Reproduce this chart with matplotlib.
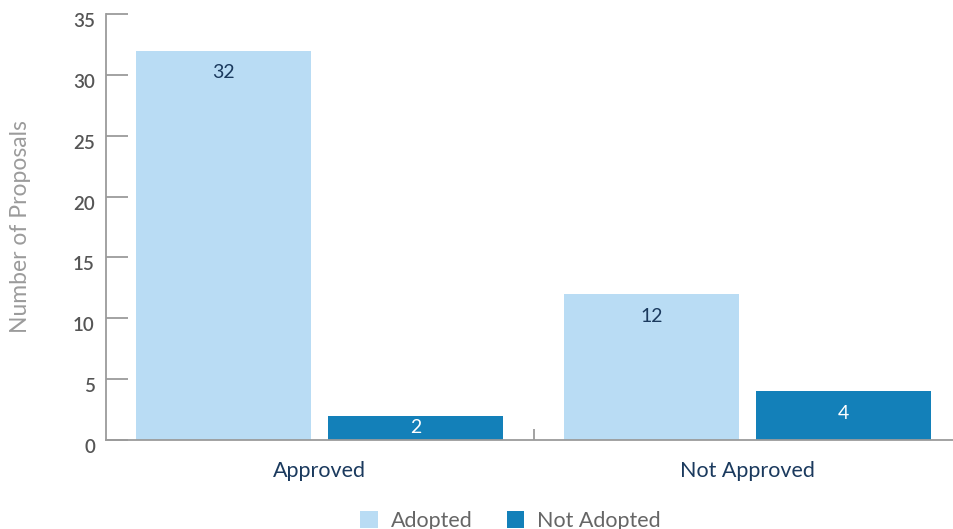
import matplotlib
matplotlib.use("Agg")
import matplotlib.pyplot as plt
import matplotlib.transforms as mtransforms
import numpy as np

categories = ["Approved", "Not Approved"]
adopted = [32, 12]
not_adopted = [2, 4]
series_names = ["Adopted", "Not Adopted"]

LIGHT = "#b9dcf4"
DARK = "#1380b9"
NAVY = "#1b3a5e"
GRAY = "#9b9b9b"

plt.rcParams["font.family"] = ["Lato", "DejaVu Sans"]

fig = plt.figure(figsize=(9.54, 5.29), dpi=100)
ax = fig.add_axes([106 / 954, 89 / 529, 848 / 954, 426 / 529])

x = np.arange(len(categories))
w = 0.409
off = 0.2245
b1 = ax.bar(x - off, adopted, w, color=LIGHT, label=series_names[0])
b2 = ax.bar(x + off, not_adopted, w, color=DARK, label=series_names[1])

for bars, col in [(b1, NAVY), (b2, "white")]:
    for r in bars:
        h = r.get_height()
        if h < 3:
            ax.text(r.get_x() + r.get_width() / 2, h / 2, f"{h:g}", ha="center",
                    va="center", color=col, fontsize=14)
        else:
            ax.annotate(f"{h:g}", (r.get_x() + r.get_width() / 2, h),
                        xytext=(0, -16), textcoords="offset points",
                        ha="center", va="center", color=col, fontsize=14)

ax.set_xlim(-0.5, 1.482)
ax.set_ylim(0, 35)
ax.set_yticks(range(0, 36, 5))
ax.set_xticks(x)
ax.set_xticklabels(categories, color=NAVY, fontsize=15.5)
ax.tick_params(axis="x", length=0, pad=15)
ax.tick_params(axis="y", direction="in", length=16, width=1.3, color=GRAY,
               labelcolor="#555555", labelsize=13.5, pad=8)
ax.set_xticks([0.5], minor=True)
ax.tick_params(axis="x", which="minor", direction="in", length=8, width=1.3, color=GRAY)
shift = mtransforms.ScaledTranslation(0, -0.06, fig.dpi_scale_trans)
for t in ax.get_yticklabels():
    t.set_fontweight("semibold")
    t.set_transform(t.get_transform() + shift)

for s in ["top", "right"]:
    ax.spines[s].set_visible(False)
for s in ["left", "bottom"]:
    ax.spines[s].set_color(GRAY)
    ax.spines[s].set_linewidth(1.3)

ax.set_ylabel("Number of Proposals", color=GRAY, fontsize=16.5, labelpad=30)

fig.legend(loc="lower center", bbox_to_anchor=(0.535, -0.04), ncol=2, frameon=False,
           fontsize=15.5, labelcolor="#666666", handlelength=0.8, handleheight=0.8,
           columnspacing=1.6, handletextpad=0.6)

fig.savefig("out.png", dpi=100)
